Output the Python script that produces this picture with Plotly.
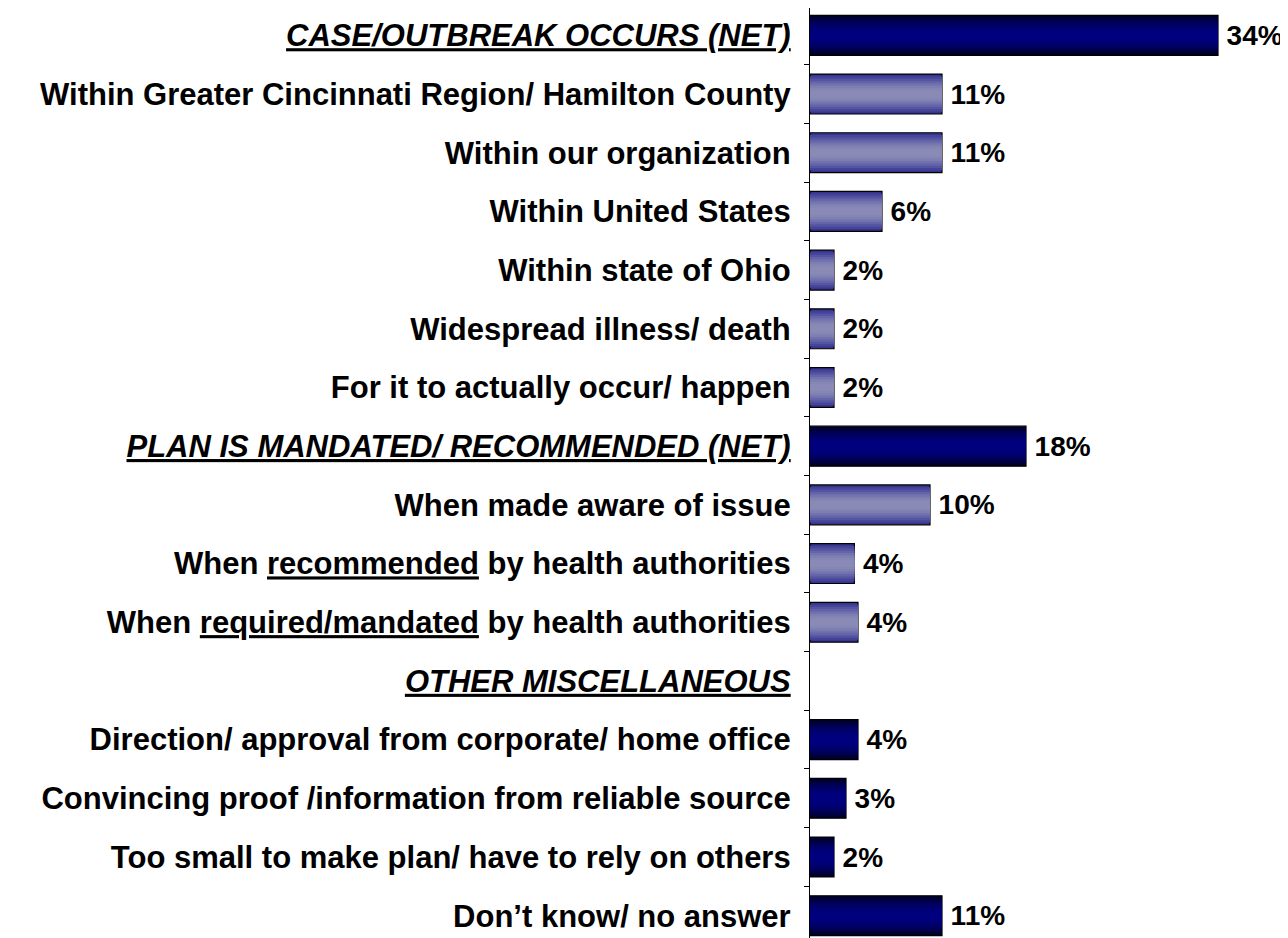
import plotly.graph_objects as go

categories = [
    "<b><i><u>CASE/OUTBREAK OCCURS (NET)</u></i></b>",
    "<b>Within Greater Cincinnati Region/ Hamilton County</b>",
    "<b>Within our organization</b>",
    "<b>Within United States</b>",
    "<b>Within state of Ohio</b>",
    "<b>Widespread illness/ death</b>",
    "<b>For it to actually occur/ happen</b>",
    "<b><i><u>PLAN IS MANDATED/ RECOMMENDED (NET)</u></i></b>",
    "<b>When made aware of issue</b>",
    "<b>When <u>recommended</u> by health authorities</b>",
    "<b>When <u>required/mandated</u> by health authorities</b>",
    "<b><i><u>OTHER MISCELLANEOUS</u></i></b>",
    "<b>Direction/ approval from corporate/ home office</b>",
    "<b>Convincing proof /information from reliable source</b>",
    "<b>Too small to make plan/ have to rely on others</b>",
    "<b>Don\u2019t know/ no answer</b>",
]
values = [34, 11, 11, 6, 2, 2, 2, 18, 10, 3.7, 4, None, 4, 3, 2, 11]
labels = ["34%", "11%", "11%", "6%", "2%", "2%", "2%", "18%", "10%", "4%", "4%", "",
          "4%", "3%", "2%", "11%"]
group = ["dark", "light", "light", "light", "light", "light", "light", "dark", "light",
         "light", "light", "dark", "dark", "dark", "dark", "dark"]

# gradient layers (outer -> inner): widths and colours per group
layer_widths = [0.68, 0.60, 0.52, 0.44, 0.36, 0.28, 0.20, 0.12]
dark_cols = ["#00002a", "#00003c", "#00004e", "#00005e", "#00006a", "#000074", "#00007a", "#00007f"]
light_cols = ["#36368f", "#44449a", "#5454a2", "#6464a8", "#7272ae", "#7e7eb2", "#8686b5", "#8a8ab6"]

fig = go.Figure()
for k, w in enumerate(layer_widths):
    cols = [dark_cols[k] if g == "dark" else light_cols[k] for g in group]
    outer = k == 0
    fig.add_trace(go.Bar(
        x=values, y=categories, orientation="h", width=w,
        marker=dict(color=cols,
                    line=dict(color="#000000", width=1.2 if outer else 0)),
        text=["\u2009" + t if t else "" for t in labels] if outer else None,
        textposition="outside" if outer else "none",
        textfont=dict(family="Liberation Sans, Arial", size=28, color="#000000"),
        texttemplate="<b>%{text}</b>" if outer else None,
        cliponaxis=False, hoverinfo="skip", showlegend=False,
    ))

fig.update_layout(
    width=1280, height=930,
    margin=dict(l=802, r=10, t=0, b=0, autoexpand=False),
    barmode="overlay",
    plot_bgcolor="white", paper_bgcolor="white",
    font=dict(family="Liberation Sans, Arial", color="#000000"),
    shapes=[dict(type="rect", xref="paper", yref="paper",
                 x0=1.004, x1=1.03, y0=0.39, y1=0.798,
                 fillcolor="#f6f6f6", line=dict(width=0), layer="below")],
)
fig.update_xaxes(range=[0, 39], visible=False, showgrid=False, zeroline=False,
                 automargin=False)
fig.update_yaxes(
    type="category", range=[15.38, -0.466], automargin=False,
    showline=True, linecolor="#000000", linewidth=1.2,
    ticks="outside", tickson="boundaries", ticklen=5, tickcolor="#000000", tickwidth=1.2,
    ticklabelstandoff=12,
    tickfont=dict(family="Liberation Sans, Arial", size=31, color="#000000"),
    showgrid=False, zeroline=False,
)

fig.write_html("out.html")
